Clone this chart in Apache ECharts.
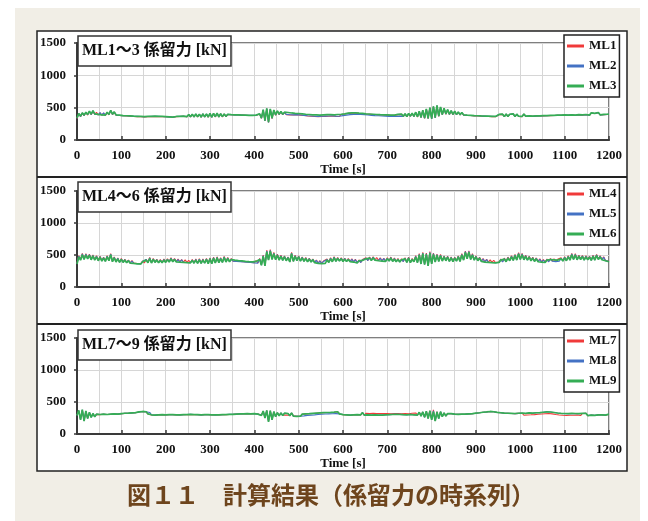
<!DOCTYPE html>
<html>
<head>
<meta charset="utf-8">
<script src="https://cdn.jsdelivr.net/npm/echarts@6/dist/echarts.min.js"></script>
<style>
html,body{margin:0;padding:0;background:#fff;}
#chart{width:648px;height:521px;}
</style>
</head>
<body>
<div id="chart"></div>
<script>
// Mooring line tension time histories, sampled every STEP seconds (0 - 1200 s)
const STEP = 4;
const xTicks = { min: 0, max: 1200, interval: 100 };
const yTicks = { min: 0, max: 1500, interval: 500 };
const panelTitles = ['ML1～3 係留力 [kN]', 'ML4～6 係留力 [kN]', 'ML7～9 係留力 [kN]'];
const lineNames = [['ML1', 'ML2', 'ML3'], ['ML4', 'ML5', 'ML6'], ['ML7', 'ML8', 'ML9']];
const caption = '図１１　計算結果（係留力の時系列）';

// ---- ML1 ~ ML3 ----
const ml1 = [
330,405,360,418,375,428,385,440,392,450,396,428,386,422,382,418,378,426,388,455,392,432,383,408,378,
399,374,395,371,391,368,387,364,385,362,382,360,379,356,381,360,385,362,389,364,385,362,383,360,381,
359,379,355,373,351,377,361,381,363,383,365,385,359,391,357,395,355,399,357,397,352,402,355,399,353,
406,351,410,356,412,354,404,358,400,362,394,368,390,373,388,375,386,369,384,367,382,365,380,363,380,
370,382,362,400,335,462,295,482,270,475,332,458,382,445,392,435,390,425,392,420,388,414,386,408,390,
407,384,401,378,395,371,391,368,387,364,385,362,383,364,387,366,389,368,391,370,387,366,391,364,395,
375,402,383,412,390,415,395,417,397,412,393,409,390,402,385,399,379,395,375,391,372,388,369,387,367,
385,362,383,360,381,362,392,366,397,362,402,359,407,366,411,362,426,356,441,346,456,336,476,330,496,
325,515,340,530,365,505,388,485,398,465,393,450,392,440,390,430,387,421,385,411,381,402,378,395,372,
392,371,389,368,386,366,385,364,383,362,381,360,377,392,362,397,359,399,362,395,365,401,359,397,365,
395,362,399,367,392,369,395,365,389,369,393,371,388,373,392,375,389,377,395,379,392,381,397,382,402,
385,399,383,395,387,402,382,397,389,406,385,399,391,412,382,416,387,409,392,421,387,415,392,407,395,398];
const ml2 = [
335,408,365,419,380,429,390,442,396,452,400,429,390,423,386,419,382,428,392,457,396,433,386,409,381,
401,377,397,374,393,371,389,367,387,365,384,363,381,359,383,363,387,365,391,367,387,365,385,363,383,
361,381,357,375,353,379,363,383,365,385,367,387,361,393,359,397,357,401,359,399,354,404,357,401,355,
408,353,411,358,413,356,406,360,402,364,396,370,391,375,389,377,387,371,385,369,383,367,381,365,381,
371,383,363,402,337,466,297,486,272,478,336,461,386,447,396,437,394,427,396,422,391,416,389,410,392,
409,387,403,381,397,374,393,371,389,367,387,365,385,367,389,369,391,371,393,373,389,369,393,367,397,
377,404,385,414,392,417,397,419,399,414,395,411,392,404,387,401,381,397,377,393,374,390,371,389,369,
387,365,385,363,383,365,394,369,399,365,404,362,409,369,413,364,428,358,443,348,458,338,478,333,498,
327,517,342,532,367,507,391,487,401,467,396,452,395,442,392,432,389,423,387,413,383,403,380,396,375,
394,374,391,371,388,369,387,367,385,365,383,363,379,394,364,399,361,401,364,397,367,404,361,399,367,
396,363,400,368,393,370,396,366,390,370,394,372,389,374,393,376,390,378,396,380,393,382,398,383,403,
386,400,384,396,388,403,383,398,390,408,386,400,392,413,383,418,388,410,393,423,388,416,393,408,396,399];
const ml3 = [
340,410,370,420,385,430,395,445,400,455,405,430,395,425,390,420,385,430,395,460,400,435,390,410,385,
402,378,398,375,394,372,390,368,388,366,385,364,382,360,384,364,388,366,392,368,388,366,386,364,384,
362,382,358,376,354,380,364,384,366,386,368,388,362,394,360,398,358,402,360,400,355,405,358,402,356,
410,355,412,360,415,358,408,362,404,366,398,372,392,376,390,378,388,372,386,370,384,368,382,366,382,
372,385,365,405,340,470,300,490,275,480,340,465,390,450,400,440,398,430,400,425,395,418,392,412,395,
410,388,404,382,398,375,394,372,390,368,388,366,386,368,390,370,392,372,394,374,390,370,394,368,398,
378,405,386,415,393,418,398,420,400,415,396,412,393,405,388,402,382,398,378,394,375,391,372,390,370,
388,366,386,364,384,366,395,370,400,366,405,363,410,370,415,366,430,360,445,350,460,340,480,335,500,
330,520,345,535,370,510,395,490,405,470,400,455,398,445,395,435,392,425,390,415,385,405,382,398,376,
395,375,392,372,389,370,388,368,386,366,384,364,380,395,365,400,362,402,365,398,368,405,362,400,368,
398,365,402,370,395,372,398,368,392,372,396,374,390,376,395,378,392,380,398,382,395,384,400,385,405,
388,402,386,398,390,405,385,400,392,410,388,402,394,415,385,420,390,412,395,425,390,418,395,410,398,400];

// ---- ML4 ~ ML6 ----
const ml4 = [
368,490,430,525,440,520,450,512,435,502,428,488,418,482,412,466,408,488,418,522,402,470,396,455,390,
445,391,434,384,422,377,412,373,403,367,398,365,407,375,435,386,462,380,446,390,434,385,428,383,436,
390,440,396,457,400,446,397,435,393,430,390,424,385,418,383,430,377,436,375,441,373,436,377,446,370,
456,370,467,380,472,386,456,390,478,396,462,400,445,405,434,403,424,400,420,395,412,390,406,385,403,
380,412,376,447,345,500,336,575,428,585,440,540,432,512,427,496,421,486,416,470,396,540,406,497,416,
487,411,470,405,460,400,450,395,438,385,422,375,411,370,406,375,436,390,457,400,472,405,460,410,455,
405,450,403,444,400,439,395,434,380,423,385,429,400,457,416,467,421,472,426,461,416,456,411,450,405,
456,410,467,405,451,400,445,395,440,400,457,390,467,385,446,400,490,385,522,365,540,355,530,335,552,
366,530,396,513,406,508,411,487,416,481,405,470,400,466,411,487,406,520,428,562,448,565,437,520,426,
487,415,466,405,445,395,434,390,424,385,418,383,413,390,436,395,451,400,467,416,488,421,510,426,536,
436,526,430,498,425,482,415,466,405,455,400,440,393,429,390,435,397,445,405,440,400,434,405,456,410,
472,415,488,426,526,436,520,430,498,436,492,425,487,430,481,420,498,426,510,436,488,430,472,415,446,400];
const ml5 = [
364,482,425,516,435,511,445,504,430,494,424,480,414,474,408,459,404,480,414,514,398,463,393,448,387,
438,388,427,381,416,374,406,370,397,364,393,362,401,372,428,383,454,377,438,387,427,382,421,380,428,
387,433,393,449,397,438,394,428,390,423,387,417,382,412,380,423,374,428,372,433,370,428,374,438,367,
448,367,459,377,464,383,448,387,469,393,454,397,438,402,427,400,418,397,414,392,406,387,400,382,397,
377,406,373,439,342,490,333,563,424,573,435,530,428,504,423,488,418,478,413,463,393,530,403,489,413,
479,408,463,402,452,397,443,392,431,382,416,372,405,367,400,372,428,387,449,397,464,402,452,407,448,
402,443,400,437,397,432,392,427,377,417,382,422,397,449,413,459,418,464,423,453,413,448,408,443,402,
448,407,459,402,443,397,438,392,432,397,449,387,459,382,438,397,480,382,511,362,530,352,520,332,541,
363,520,393,504,403,499,408,479,413,473,402,463,397,458,408,479,403,510,424,551,444,555,433,510,423,
479,412,458,402,438,392,427,387,417,382,412,380,407,387,428,392,443,397,459,413,479,418,500,423,525,
433,516,427,489,422,474,412,458,402,448,397,432,390,422,387,428,394,438,402,432,397,427,402,448,407,
464,412,479,423,516,433,510,427,489,433,484,422,479,427,473,417,489,423,500,433,479,427,464,412,438,397];
const ml6 = [
360,470,420,505,430,500,440,495,425,485,420,470,410,465,405,450,400,470,410,505,395,455,390,440,385,
430,385,420,378,410,372,400,368,392,362,388,360,395,370,420,380,445,375,430,385,420,380,415,378,420,
385,425,390,440,395,430,392,420,388,415,385,410,380,405,378,415,372,420,370,425,368,420,372,430,365,
440,365,450,375,455,380,440,385,460,390,445,395,430,400,420,398,412,395,408,390,400,385,395,380,392,
375,400,370,430,340,480,330,550,420,560,430,520,425,495,420,480,415,470,410,455,390,520,400,480,410,
470,405,455,400,445,395,435,390,425,380,410,370,400,365,395,370,420,385,440,395,455,400,445,405,440,
400,435,398,430,395,425,390,420,375,410,380,415,395,440,410,450,415,455,420,445,410,440,405,435,400,
440,405,450,400,435,395,430,390,425,395,440,385,450,380,430,395,470,380,500,360,520,350,510,330,530,
360,510,390,495,400,490,405,470,410,465,400,455,395,450,405,470,400,500,420,540,440,545,430,500,420,
470,410,450,400,430,390,420,385,410,380,405,378,400,385,420,390,435,395,450,410,470,415,490,420,515,
430,505,425,480,420,465,410,450,400,440,395,425,388,415,385,420,392,430,400,425,395,420,400,440,405,
455,410,470,420,505,430,500,425,480,430,475,420,470,425,465,415,480,420,490,430,470,425,455,410,430,395];

// ---- ML7 ~ ML9 ----
const ml7 = [
295,362,228,372,210,352,246,334,264,316,273,307,283,303,287,308,292,304,290,309,294,313,292,311,297,
316,294,322,299,325,300,328,304,333,308,343,319,351,323,347,313,337,298,324,294,321,298,325,300,323,
299,325,300,329,302,325,298,323,296,321,300,325,302,329,304,331,302,329,300,325,296,323,300,329,302,
331,298,323,296,321,298,324,300,325,302,329,304,325,306,329,310,331,312,333,314,335,316,337,314,333,
320,327,312,332,295,355,258,365,200,360,228,345,275,332,288,328,292,323,297,319,288,328,283,309,278,
304,276,309,280,314,288,317,292,321,296,325,302,329,306,333,310,335,312,337,314,341,316,347,312,337,
302,331,298,325,294,321,298,324,300,329,298,333,293,325,298,321,294,323,298,321,294,319,292,321,298,
319,304,317,307,319,310,321,307,317,304,319,302,317,307,324,302,329,297,338,284,342,265,352,246,365,
228,378,210,350,245,345,274,328,283,319,292,317,297,311,292,307,297,309,300,311,302,314,307,317,312,
325,308,331,312,339,318,344,323,351,328,347,318,337,308,331,300,325,298,323,294,321,290,319,294,323,
298,325,293,321,298,329,300,325,303,331,308,333,312,339,316,345,320,343,314,335,304,327,296,321,292,
319,290,317,294,321,292,319,296,317,288,321,294,323,286,317,294,323,290,319,296,325,298,321,294,317,308];
const ml8 = [
292,366,224,376,205,356,243,337,262,318,271,308,281,304,286,309,291,304,289,309,293,314,291,311,296,
317,297,323,301,325,303,329,306,333,311,344,321,351,326,347,316,337,301,324,297,321,301,325,303,323,
301,325,303,329,305,325,301,323,299,321,303,325,305,329,307,331,305,329,303,325,299,323,303,329,305,
331,301,323,299,321,301,324,303,325,305,329,307,325,309,329,313,331,315,333,317,335,319,337,317,333,
319,327,311,333,292,357,254,367,195,362,224,347,272,333,286,329,291,324,296,319,286,329,281,309,276,
304,279,309,283,314,291,317,295,321,299,325,305,329,309,333,313,335,315,337,317,341,319,347,315,337,
305,331,301,325,297,321,301,324,303,329,301,333,296,325,301,321,297,323,301,321,297,319,295,321,301,
319,303,317,306,319,309,321,306,317,303,319,301,317,306,324,301,329,296,339,282,343,262,353,243,362,
224,362,205,347,242,347,272,329,281,319,291,317,296,311,291,307,296,309,299,311,301,314,306,317,311,
325,311,331,315,339,321,344,326,351,331,347,321,337,311,331,303,325,301,323,297,321,293,319,297,323,
301,325,296,321,301,329,303,325,306,331,311,333,315,339,319,345,323,343,317,335,307,327,299,321,295,
319,293,317,297,321,295,319,299,317,291,321,297,323,289,317,297,323,293,319,299,325,301,321,297,317,309];
const ml9 = [
290,370,220,380,200,360,240,340,260,320,270,310,280,305,285,310,290,305,288,310,292,315,290,312,295,
318,296,324,300,326,302,330,305,334,310,345,320,352,325,348,315,338,300,325,296,322,300,326,302,324,
300,326,302,330,304,326,300,324,298,322,302,326,304,330,306,332,304,330,302,326,298,324,302,330,304,
332,300,324,298,322,300,325,302,326,304,330,306,326,308,330,312,332,314,334,316,336,318,338,316,334,
318,328,310,335,290,360,250,370,190,365,220,350,270,335,285,330,290,325,295,320,285,330,280,310,275,
305,278,310,282,315,290,318,294,322,298,326,304,330,308,334,312,336,314,338,316,342,318,348,314,338,
304,332,300,326,296,322,300,325,302,330,300,334,295,326,300,322,296,324,300,322,296,320,294,322,300,
320,302,318,305,320,308,322,305,318,302,320,300,318,305,325,300,330,295,340,280,345,260,355,240,360,
220,350,200,345,240,350,270,330,280,320,290,318,295,312,290,308,295,310,298,312,300,315,305,318,310,
326,310,332,314,340,320,345,325,352,330,348,320,338,310,332,302,326,300,324,296,322,292,320,296,324,
300,326,295,322,300,330,302,326,305,332,310,334,314,340,318,346,322,344,316,336,306,328,298,322,294,
320,292,318,296,322,294,320,298,318,290,322,296,324,288,318,296,324,292,320,298,326,300,322,296,318,310];

const panelSeries = [[ml1, ml2, ml3], [ml4, ml5, ml6], [ml7, ml8, ml9]];
const lineColors = ['#f03a3a', '#4472c4', '#35ad55'];
const lineWidths = [1.1, 1.1, 1.7];

const SERIF = "'Liberation Serif','Times New Roman','Noto Sans CJK JP',serif";
const AXIS_DARK = '#3a3a3a';
const GRID_LIGHT = '#d6d6d6';

// Panel plot areas (pixels)
const panels = [
  { top: 43, height: 97, boxTop: 36, legendTop: 35 },
  { top: 191, height: 96, boxTop: 182, legendTop: 183 },
  { top: 338, height: 96, boxTop: 330, legendTop: 330 }
];
const PLOT_LEFT = 77, PLOT_WIDTH = 532;

const labelFont = { fontFamily: SERIF, fontWeight: 'bold', fontSize: 13, color: '#111' };
const plainNumber = v => String(v);

const grid = panels.map(p => ({
  left: PLOT_LEFT, top: p.top, width: PLOT_WIDTH, height: p.height,
  show: true, borderColor: '#555', borderWidth: 1.5, backgroundColor: 'rgba(0,0,0,0)'
}));

const xAxis = panels.map((p, i) => ({
  type: 'value', gridIndex: i,
  min: xTicks.min, max: xTicks.max, interval: xTicks.interval,
  name: 'Time [s]', nameLocation: 'middle', nameGap: 22,
  nameTextStyle: labelFont,
  axisLine: { show: true, onZero: false, lineStyle: { color: AXIS_DARK, width: 2 } },
  axisTick: { show: true, inside: true, length: 4, lineStyle: { color: AXIS_DARK, width: 1.5 } },
  axisLabel: Object.assign({ margin: 9, formatter: plainNumber }, labelFont),
  splitLine: { show: true, lineStyle: { color: GRID_LIGHT, width: 1 } },
  minorTick: { show: false, splitNumber: 2 },
  minorSplitLine: { show: true, lineStyle: { color: GRID_LIGHT, width: 1 } }
}));

const yAxis = panels.map((p, i) => ({
  type: 'value', gridIndex: i,
  min: yTicks.min, max: yTicks.max, interval: yTicks.interval,
  axisLine: { show: true, onZero: false, lineStyle: { color: AXIS_DARK, width: 2 } },
  axisTick: { show: true, inside: false, length: 3, lineStyle: { color: AXIS_DARK, width: 1.5 } },
  axisLabel: Object.assign({ margin: 11, formatter: plainNumber }, labelFont),
  splitLine: { show: true, lineStyle: { color: GRID_LIGHT, width: 1 } }
}));

// Red drawn first, then blue, green on top
const series = [];
panelSeries.forEach((group, i) => {
  group.forEach((arr, j) => {
    series.push({
      type: 'line', name: lineNames[i][j],
      xAxisIndex: i, yAxisIndex: i,
      z: 2 + j,
      data: arr.map((v, k) => [k * STEP, v]),
      showSymbol: false, symbol: 'none',
      lineStyle: { color: lineColors[j], width: lineWidths[j] },
      itemStyle: { color: lineColors[j] },
      silent: true
    });
  });
});

const legend = panels.map((p, i) => ({
  orient: 'vertical', left: 564, top: p.legendTop,
  data: lineNames[i], icon: 'rect',
  itemWidth: 17, itemHeight: 3, itemGap: 6,
  padding: [4, 3, 4, 3],
  backgroundColor: '#fff', borderColor: '#222', borderWidth: 1.5, borderRadius: 0,
  textStyle: Object.assign({ lineHeight: 14 }, labelFont),
  selectedMode: false, z: 10
}));

// Background panels, frame, dividers, panel titles and caption
const graphics = [
  { type: 'rect', z: -20, shape: { x: 15, y: 8, width: 625, height: 513 }, style: { fill: '#f1eee6' } },
  { type: 'rect', z: -19, shape: { x: 37, y: 31, width: 590, height: 440 }, style: { fill: '#fff', stroke: '#222', lineWidth: 1.5 } },
  { type: 'line', z: -18, shape: { x1: 37, y1: 177, x2: 627, y2: 177 }, style: { stroke: '#222', lineWidth: 1.8 } },
  { type: 'line', z: -18, shape: { x1: 37, y1: 324, x2: 627, y2: 324 }, style: { stroke: '#222', lineWidth: 1.8 } }
];
panels.forEach((p, i) => {
  graphics.push({ type: 'rect', z: 20, shape: { x: 78, y: p.boxTop, width: 153, height: 30 },
    style: { fill: '#fff', stroke: '#333', lineWidth: 1.5 } });
  graphics.push({ type: 'text', z: 21, x: 82, y: p.boxTop + 15,
    style: { text: panelTitles[i], font: "bold 16px " + SERIF, fill: '#111', align: 'left', verticalAlign: 'middle' } });
});
graphics.push({ type: 'text', z: 21, x: 331, y: 495,
  style: { text: caption, font: "bold 24px 'Noto Sans CJK JP',sans-serif", fill: '#6e451d', align: 'center', verticalAlign: 'middle' } });

const chart = echarts.init(document.getElementById('chart'), null, { renderer: 'canvas' });
chart.setOption({
  backgroundColor: '#fff',
  animation: false,
  grid: grid,
  xAxis: xAxis,
  yAxis: yAxis,
  legend: legend,
  series: series,
  graphic: graphics
});
</script>
</body>
</html>
